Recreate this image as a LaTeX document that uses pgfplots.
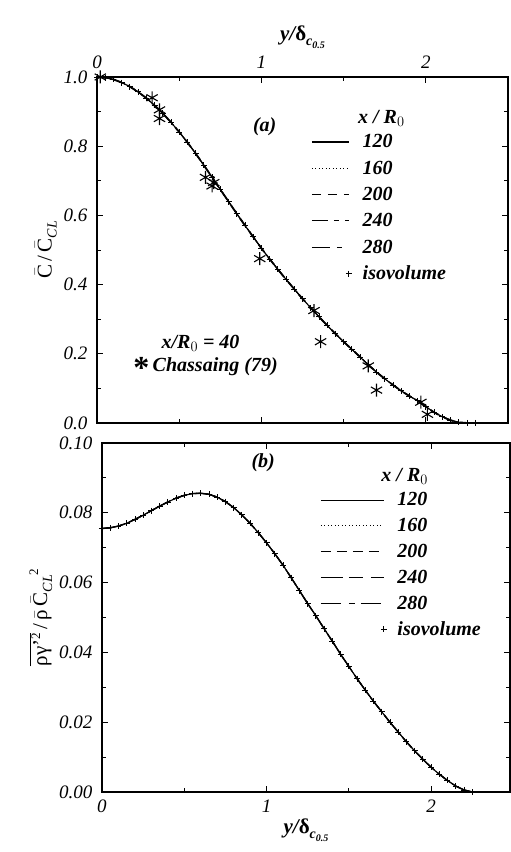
\documentclass[border=0pt]{standalone}
\usepackage{fontspec}
\setmainfont{Liberation Serif}
\usepackage{pgfplots}
\pgfplotsset{compat=1.18}
\usepackage{pgfplotstable}

\pgfplotstableread{
x y
0.00 1.000
0.05 0.998
0.10 0.993
0.15 0.984
0.20 0.972
0.25 0.957
0.30 0.939
0.35 0.918
0.40 0.895
0.45 0.869
0.50 0.841
0.55 0.811
0.60 0.779
0.65 0.745
0.70 0.710
0.75 0.675
0.80 0.640
0.85 0.605
0.90 0.571
0.95 0.538
1.00 0.505
1.05 0.474
1.10 0.444
1.15 0.415
1.20 0.387
1.25 0.359
1.30 0.333
1.35 0.307
1.40 0.282
1.45 0.258
1.50 0.235
1.55 0.213
1.60 0.191
1.65 0.168
1.70 0.147
1.75 0.128
1.80 0.110
1.85 0.093
1.90 0.078
1.95 0.064
2.00 0.047
2.05 0.031
2.10 0.018
2.15 0.008
2.20 0.002
2.25 0.000
2.30 0.000
}\meanC

\pgfplotstableread{
x y
0.02 1.000
0.335 0.940
0.38 0.905
0.38 0.880
0.66 0.710
0.70 0.685
0.71 0.695
0.99 0.475
1.32 0.325
1.36 0.235
1.65 0.165
1.70 0.095
1.97 0.060
2.01 0.025
}\chassaing

\pgfplotstableread{
x y
0.00 0.0755
0.05 0.0757
0.10 0.0762
0.15 0.0770
0.20 0.0781
0.25 0.0793
0.30 0.0806
0.35 0.0819
0.40 0.0831
0.45 0.0842
0.50 0.0850
0.55 0.0855
0.60 0.0856
0.65 0.0853
0.70 0.0845
0.75 0.0832
0.80 0.0815
0.85 0.0794
0.90 0.0770
0.95 0.0743
1.00 0.0714
1.05 0.0683
1.10 0.0650
1.15 0.0614
1.20 0.0577
1.25 0.0540
1.30 0.0505
1.35 0.0468
1.40 0.0432
1.45 0.0395
1.50 0.0360
1.55 0.0325
1.60 0.0292
1.65 0.0260
1.70 0.0230
1.75 0.0200
1.80 0.0172
1.85 0.0144
1.90 0.0118
1.95 0.0094
2.00 0.0071
2.05 0.0051
2.10 0.0033
2.15 0.0017
2.20 0.0006
2.25 0.0000
}\varC

\newcommand{\bigfont}{\fontsize{21}{24}\selectfont}
\newcommand{\tickfont}{\fontsize{19}{22}\selectfont\itshape}
\newcommand{\legfont}{\fontsize{20}{24}\selectfont\bfseries\itshape}
\newcommand{\tk}[1]{\mbox{\tickfont #1}}
\newcommand{\xlab}{\mbox{\bigfont\bfseries\itshape y/\upshape δ\raisebox{-5pt}{\fontsize{14}{14}\selectfont\itshape c}\raisebox{-8pt}{\fontsize{10}{10}\selectfont\itshape 0.5}}}

\begin{document}
\begin{tikzpicture}
\path (0pt,0pt) (511pt,852pt);

% ---------------- panel (a)
\begin{axis}[
  scale only axis,
  at={(97pt,429pt)}, anchor=south west,
  width=411pt, height=346pt,
  xmin=0, xmax=2.5, ymin=0, ymax=1.0,
  axis line style={line width=1.4pt},
  tick style={black, line width=0.9pt},
  major tick length=6pt,
  minor tick length=4pt,
  xtick={0,1,2},
  xticklabels={\tk{0},\tk{1},\tk{2}},
  minor xtick={0.5,1.5},
  ytick={0,0.2,0.4,0.6,0.8,1.0},
  yticklabels={\tk{0.0},\tk{0.2},\tk{0.4},\tk{0.6},\tk{0.8},\tk{1.0}},
  minor ytick={0.1,0.3,0.5,0.7,0.9},
  xticklabel pos=upper,
  tick label style={font=\tickfont},
  yticklabel style={xshift=-6pt},
  xticklabel style={yshift=5pt},
  xlabel={\xlab},
  xlabel style={font=\bigfont},
  ylabel={\mbox{\bigfont$\bar{\mbox{C}}$\,/\,$\bar{\mbox{C}}$\raisebox{-5pt}{\fontsize{14}{14}\selectfont\itshape CL}}},
  ylabel style={font=\bigfont},
  legend image code/.code={\draw[mark repeat=2, mark phase=2, #1] plot coordinates {(0pt,0pt) (37pt,0pt)}; \path (0pt,0pt) (48pt,0pt);},
  legend style={draw=none, fill=none, inner sep=0pt, row sep=7.5pt, font=\legfont, at={(0.52,0.84)}, anchor=north west},
  legend cell align=left,
]
\addplot[black, line width=1.1pt] table {\meanC};
\addlegendentry{120}
\addplot[black, line width=0.9pt, dash pattern=on 1pt off 2.5pt] table {\meanC};
\addlegendentry{160}
\addplot[black, line width=1.8pt, dash pattern=on 9pt off 7pt] table {\meanC};
\addlegendentry{200}
\addplot[black, line width=1.2pt, dash pattern=on 16pt off 6pt on 5pt off 6pt] table {\meanC};
\addlegendentry{240}
\addplot[black, line width=0.8pt, dash pattern=on 18pt off 7pt on 5pt off 7pt] table {\meanC};
\addlegendentry{280}
\addplot[black, line width=0.8pt, only marks, mark=+, mark size=3pt] table {\meanC};
\addlegendentry{isovolume}
\addplot[black, line width=1.1pt, only marks, mark=asterisk, mark size=6.5pt, forget plot] table {\chassaing};

\node[font=\legfont] at (axis cs:1.02,0.855) {(a)};
\node[font=\legfont] at (axis cs:1.73,0.881) {x / R$_0$};
\node[font=\legfont] at (axis cs:0.63,0.23) {x/R$_0$ = 40};
\node[font=\legfont, anchor=west] at (axis cs:0.2,0.16) {\raisebox{-7pt}{\fontsize{32}{32}\selectfont\upshape *}\,Chassaing (79)};
\end{axis}

% ---------------- panel (b)
\begin{axis}[
  scale only axis,
  at={(102pt,60pt)}, anchor=south west,
  width=408pt, height=349pt,
  xmin=0, xmax=2.48, ymin=0, ymax=0.10,
  axis line style={line width=1.4pt},
  tick style={black, line width=0.9pt},
  major tick length=6pt,
  minor tick length=4pt,
  xtick={0,1,2},
  xticklabels={\tk{0},\tk{1},\tk{2}},
  minor xtick={0.5,1.5},
  ytick={0,0.02,0.04,0.06,0.08,0.10},
  yticklabels={\tk{0.00},\tk{0.02},\tk{0.04},\tk{0.06},\tk{0.08},\tk{0.10}},
  minor ytick={0.01,0.03,0.05,0.07,0.09},
  scaled y ticks=false,
  tick label style={font=\tickfont},
  yticklabel style={xshift=-6pt},
  xticklabel style={yshift=-4pt},
  xlabel={\xlab},
  xlabel style={font=\bigfont},
  ylabel={\mbox{\bigfont$\overline{\mbox{ργ'\raisebox{7pt}{\fontsize{13}{13}\selectfont 2}}}$\,/\,$\bar{\mbox{ρ}}$\,$\bar{\mbox{C}}$\raisebox{-5pt}{\fontsize{14}{14}\selectfont\itshape CL}\raisebox{9pt}{\fontsize{13}{13}\selectfont 2}}},
  ylabel style={font=\bigfont},
  legend image code/.code={\draw[mark repeat=2, mark phase=2, #1] plot coordinates {(0pt,0pt) (63pt,0pt)}; \path (0pt,0pt) (74pt,0pt);},
  legend style={draw=none, fill=none, inner sep=0pt, row sep=7pt, font=\legfont, at={(0.534,0.864)}, anchor=north west},
  legend cell align=left,
]
\addplot[black, line width=1.1pt] table {\varC};
\addlegendentry{120}
\addplot[black, line width=0.9pt, dash pattern=on 1pt off 2.5pt] table {\varC};
\addlegendentry{160}
\addplot[black, line width=1.2pt, dash pattern=on 10pt off 6pt] table {\varC};
\addlegendentry{200}
\addplot[black, line width=1.4pt, dash pattern=on 22pt off 6pt on 14pt off 8pt] table {\varC};
\addlegendentry{240}
\addplot[black, line width=0.8pt, dash pattern=on 20pt off 8pt on 6pt off 6pt] table {\varC};
\addlegendentry{280}
\addplot[black, line width=0.8pt, only marks, mark=+, mark size=3pt] table {\varC};
\addlegendentry{isovolume}

\node[font=\legfont] at (axis cs:0.98,0.0945) {(b)};
\node[font=\legfont] at (axis cs:1.84,0.0903) {x / R$_0$};
\end{axis}
\end{tikzpicture}
\end{document}
